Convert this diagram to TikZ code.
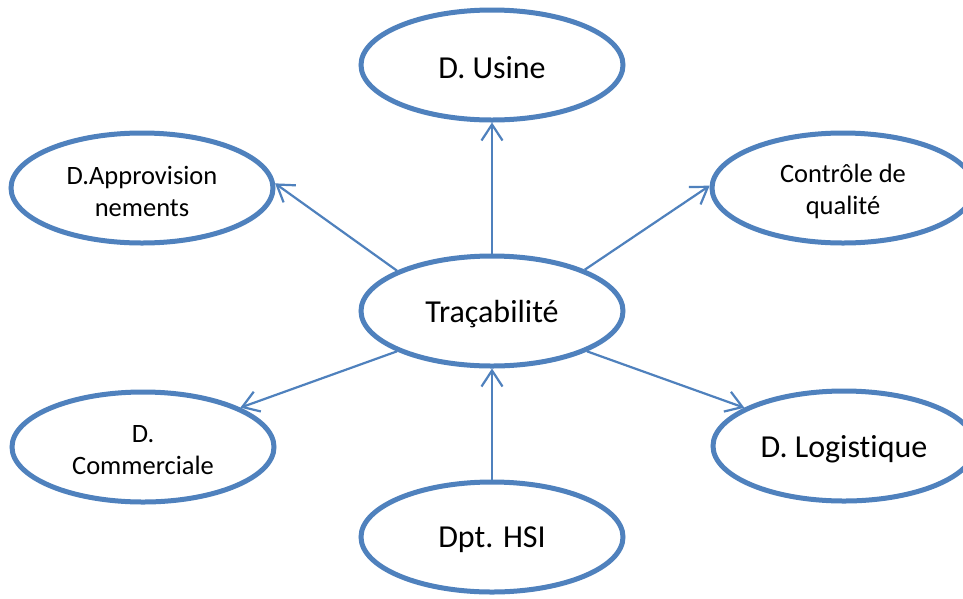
\documentclass[tikz,border=0pt]{standalone}
\usepackage{fontspec}
\setmainfont[Ligatures=NoCommon]{Carlito}
\usetikzlibrary{arrows.meta,shapes.geometric}
\definecolor{ovalblue}{RGB}{79,129,189}
\tikzset{
  oval/.style={draw=ovalblue, line width=5pt, ellipse, minimum width=262pt,
    minimum height=110pt, inner sep=0pt},
  caption/.style={align=center, inner sep=0pt, yshift=-3pt},
  bigtext/.style={caption, font=\fontsize{32}{39}\selectfont},
  smalltext/.style={caption, font=\fontsize{26.5}{32}\selectfont},
  link/.style={ovalblue, line width=2.2pt,
    -{Straight Barb[length=16pt,width=21pt,line width=2.2pt]}}
}
\begin{document}
\begin{tikzpicture}[x=1pt,y=-1pt]
\clip (0,0) rectangle (963,598);
\fill[white] (0,0) rectangle (963,598);

% centre and departments
\node[oval] (tr)    at (492,311) {};
\node[oval] (usine) at (492,65)  {};
\node[oval] (appro) at (142,188) {};
\node[oval] (ctrl)  at (843,188) {};
\node[oval] (comm)  at (143,447) {};
\node[oval] (logi)  at (844,446) {};
\node[oval] (hsi)   at (492,537) {};

% their names
\node[bigtext]   (tr-t)    at (tr)    {Traçabilité};
\node[bigtext]   (usine-t) at (usine) {D. Usine};
\node[smalltext] (appro-t) at (appro) {D.Approvision\\nements};
\node[smalltext] (ctrl-t)  at (ctrl)  {Contrôle de\\qualité};
\node[smalltext] (comm-t)  at (comm)  {D.\\Commerciale};
\node[bigtext]   (logi-t)  at (logi)  {D. Logistique};
\node[bigtext]   (hsi-t)   at (hsi)   {Dpt. HSI};

% information flows
\draw[link] (tr.north) -- (usine.south);
\draw[link] (tr.157) -- (appro.2);
\draw[link] (tr.24) -- (ctrl.179);
\draw[link] (tr.203) -- (comm.22);
\draw[link] (tr.337) -- (logi.159);
\draw[link] (hsi.north) -- (tr.south);
\end{tikzpicture}
\end{document}
